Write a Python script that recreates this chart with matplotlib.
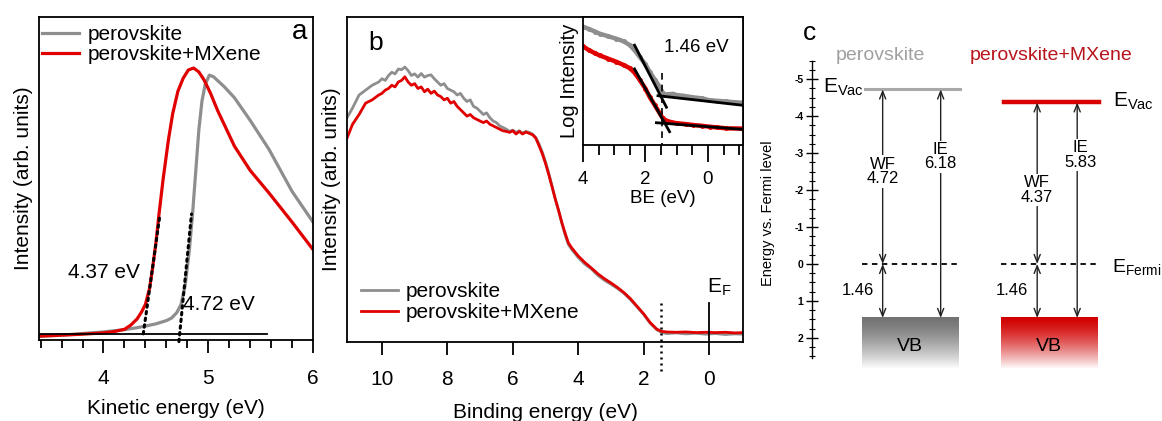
import numpy as np
import matplotlib
matplotlib.use('Agg')
import matplotlib.pyplot as plt
from matplotlib.ticker import MultipleLocator, FixedLocator

plt.rcParams['font.family'] = ['Liberation Sans', 'DejaVu Sans']
plt.rcParams['mathtext.fontset'] = 'custom'
plt.rcParams['mathtext.rm'] = 'Liberation Sans'
plt.rcParams['mathtext.it'] = 'Liberation Sans:italic'
plt.rcParams['mathtext.default'] = 'regular'

GRAY = '#8e8e8e'
RED = '#e00000'
LABELS = ['perovskite', 'perovskite+MXene']

# ---- panel a : secondary electron cutoff (kinetic energy, intensity) ----
ke_gray = [3.40, 3.60, 3.80, 4.00, 4.20, 4.30, 4.40, 4.50, 4.60, 4.65, 4.70, 4.74, 4.78,
           4.82, 4.85, 4.88, 4.91, 4.94, 4.97, 5.01, 5.05, 5.15, 5.25, 5.40, 5.58, 5.80, 6.00]
int_gray = [0.012, 0.015, 0.020, 0.025, 0.032, 0.037, 0.043, 0.050, 0.060, 0.068, 0.085, 0.11, 0.17,
            0.28, 0.39, 0.52, 0.65, 0.74, 0.79, 0.82, 0.815, 0.785, 0.75, 0.68, 0.59, 0.46, 0.365]
ke_red = [3.40, 3.80, 4.00, 4.10, 4.20, 4.26, 4.32, 4.36, 4.40, 4.44, 4.47, 4.50, 4.53, 4.57,
          4.62, 4.66, 4.71, 4.76, 4.81, 4.86, 4.91, 4.96, 5.02, 5.09, 5.17, 5.25, 5.40, 5.58, 5.80, 6.00]
int_red = [0.012, 0.018, 0.022, 0.026, 0.033, 0.046, 0.065, 0.085, 0.11, 0.16, 0.226, 0.30, 0.39, 0.50,
           0.62, 0.70, 0.77, 0.81, 0.836, 0.842, 0.83, 0.805, 0.765, 0.71, 0.655, 0.60, 0.525, 0.455, 0.365, 0.28]
cutoff_red = ([4.38, 4.54], [0.019, 0.39])
cutoff_gray = ([4.72, 4.84], [-0.005, 0.39])
baseline_a = ([3.385, 5.56], [0.019, 0.019])

# ---- panel b : valence band (binding energy, intensity) ----
be_gray = [11.07, 10.9, 10.7, 10.5, 10.3, 10.1, 10.0, 9.9, 9.8, 9.7, 9.6, 9.5, 9.4, 9.3, 9.2, 9.1,
           9.0, 8.9, 8.8, 8.7, 8.6, 8.5, 8.4, 8.3, 8.2, 8.1, 8.0, 7.9, 7.8, 7.7, 7.6, 7.5, 7.4, 7.3,
           7.2, 7.1, 7.0, 6.9, 6.8, 6.7, 6.6, 6.5, 6.4, 6.3, 6.2, 6.1, 6.0, 5.9, 5.8, 5.7, 5.6, 5.5,
           5.4, 5.3, 5.2, 5.1, 5.0, 4.9, 4.8, 4.7, 4.6, 4.5, 4.4, 4.3, 4.2, 4.0, 3.8, 3.6, 3.4, 3.2,
           3.0, 2.8, 2.6, 2.4, 2.2, 2.0, 1.8, 1.6, 1.46, 1.3, 1.0, 0.7, 0.4, 0.1, -0.2, -0.5, -0.8, -1.04]
vb_gray = [0.69, 0.72, 0.76, 0.775, 0.79, 0.80, 0.81, 0.805, 0.82, 0.83, 0.825, 0.84, 0.838, 0.846, 0.835, 0.82,
           0.825, 0.815, 0.826, 0.815, 0.82, 0.822, 0.81, 0.80, 0.79, 0.795, 0.78, 0.775, 0.77, 0.76, 0.765, 0.75, 0.74, 0.745,
           0.725, 0.72, 0.71, 0.70, 0.705, 0.69, 0.68, 0.675, 0.665, 0.66, 0.655, 0.648, 0.652, 0.645, 0.65, 0.642, 0.648, 0.645,
           0.64, 0.63, 0.61, 0.585, 0.555, 0.52, 0.48, 0.44, 0.405, 0.365, 0.33, 0.30, 0.285, 0.26, 0.24, 0.225, 0.205, 0.19,
           0.178, 0.165, 0.15, 0.13, 0.108, 0.085, 0.058, 0.038, 0.03, 0.026, 0.028, 0.025, 0.027, 0.024, 0.026, 0.023, 0.025, 0.024]
be_red = [11.07, 10.9, 10.7, 10.5, 10.3, 10.1, 10.0, 9.9, 9.8, 9.7, 9.6, 9.5, 9.4, 9.3, 9.2, 9.1,
          9.0, 8.9, 8.8, 8.7, 8.6, 8.5, 8.4, 8.3, 8.2, 8.1, 8.0, 7.9, 7.8, 7.7, 7.6, 7.5, 7.4, 7.3,
          7.2, 7.1, 7.0, 6.9, 6.8, 6.7, 6.6, 6.5, 6.4, 6.3, 6.2, 6.1, 6.0, 5.9, 5.8, 5.7, 5.6, 5.5,
          5.4, 5.3, 5.2, 5.1, 5.0, 4.9, 4.8, 4.7, 4.6, 4.5, 4.4, 4.3, 4.2, 4.0, 3.8, 3.6, 3.4, 3.2,
          3.0, 2.8, 2.6, 2.4, 2.2, 2.0, 1.8, 1.6, 1.46, 1.3, 1.0, 0.7, 0.4, 0.1, -0.2, -0.5, -0.8, -1.04]
vb_red = [0.627, 0.67, 0.70, 0.735, 0.745, 0.76, 0.765, 0.775, 0.78, 0.79, 0.785, 0.80, 0.805, 0.816, 0.80, 0.79,
          0.795, 0.78, 0.785, 0.77, 0.778, 0.765, 0.772, 0.76, 0.755, 0.745, 0.75, 0.735, 0.74, 0.725, 0.715, 0.705, 0.695, 0.70,
          0.69, 0.685, 0.68, 0.675, 0.68, 0.67, 0.665, 0.66, 0.655, 0.65, 0.648, 0.645, 0.65, 0.64, 0.648, 0.64, 0.646, 0.642,
          0.638, 0.628, 0.605, 0.58, 0.55, 0.515, 0.478, 0.44, 0.405, 0.368, 0.335, 0.305, 0.29, 0.265, 0.245, 0.228, 0.21, 0.195,
          0.182, 0.168, 0.152, 0.133, 0.11, 0.087, 0.06, 0.04, 0.033, 0.031, 0.03, 0.031, 0.029, 0.03, 0.029, 0.03, 0.028, 0.029]
vbm = 1.46

# ---- inset : log intensity near the valence band edge ----
be_in_gray = [4.0, 3.8, 3.6, 3.47, 3.2, 2.93, 2.7, 2.5, 2.35, 2.19, 2.0, 1.87, 1.7, 1.55, 1.45, 1.39,
              1.3, 1.12, 1.0, 0.8, 0.59, 0.4, 0.2, -0.05, -0.3, -0.59, -0.8, -1.12]
log_gray = [0.925, 0.905, 0.885, 0.87, 0.85, 0.83, 0.81, 0.78, 0.74, 0.69, 0.63, 0.573, 0.51, 0.456, 0.41, 0.39,
            0.395, 0.40, 0.39, 0.385, 0.377, 0.37, 0.365, 0.35, 0.345, 0.34, 0.335, 0.33]
be_in_red = [4.0, 3.8, 3.6, 3.47, 3.2, 2.93, 2.7, 2.5, 2.35, 2.19, 2.0, 1.87, 1.7, 1.55, 1.45, 1.39,
             1.2, 1.0, 0.7, 0.47, 0.2, -0.05, -0.3, -0.59, -1.12]
log_red = [0.77, 0.74, 0.715, 0.70, 0.675, 0.65, 0.625, 0.60, 0.565, 0.51, 0.44, 0.377, 0.31, 0.25, 0.21, 0.195,
           0.18, 0.17, 0.163, 0.156, 0.15, 0.143, 0.137, 0.13, 0.128]
fits = [([2.35, 1.33], [0.78, 0.295]), ([1.6, -1.12], [0.385, 0.31]),
        ([2.35, 1.23], [0.594, 0.104]), ([1.65, -1.12], [0.174, 0.122])]

# ---- panel c : energy levels ----
wf = [4.72, 4.37]
ie = [6.18, 5.83]
vb_top = [1.46, 1.46]

fig = plt.figure(figsize=(11.62, 4.21), dpi=100)

# ================= panel a =================
ax = fig.add_axes([0.0336, 0.1924, 0.2358, 0.7672])
ax.plot(ke_gray, int_gray, color=GRAY, lw=2.3, label=LABELS[0])
ax.plot(ke_red, int_red, color=RED, lw=2.3, label=LABELS[1])
ax.plot(*cutoff_red, color='black', lw=2.2, ls=(0, (0.8, 1.4)), dash_capstyle='round', clip_on=False)
ax.plot(*cutoff_gray, color='black', lw=2.2, ls=(0, (0.8, 1.4)), dash_capstyle='round', clip_on=False)
ax.plot(*baseline_a, color='black', lw=1.3)
ax.set_xlim(3.385, 6.0)
ax.set_ylim(0, 1)
ax.set_yticks([])
ax.xaxis.set_major_locator(MultipleLocator(1))
ax.xaxis.set_minor_locator(MultipleLocator(0.2))
ax.tick_params(axis='x', which='major', direction='out', length=9, width=1.3, labelsize=15, pad=12)
ax.tick_params(axis='x', which='minor', direction='out', length=6, width=1.3)
ax.set_xlabel('Kinetic energy (eV)', fontsize=15, labelpad=8)
ax.set_ylabel('Intensity (arb. units)', fontsize=15, labelpad=4)
for s in ax.spines.values():
    s.set_linewidth(1.3)
ax.text(4.35, 0.21, '4.37 eV', fontsize=15, ha='right', va='center')
ax.text(4.76, 0.11, '4.72 eV', fontsize=15, ha='left', va='center')
ax.text(5.87, 0.955, 'a', fontsize=20, ha='center', va='center')
ax.legend(loc='upper left', bbox_to_anchor=(-0.02, 1.0), frameon=False, fontsize=15,
          handlelength=1.8, handletextpad=0.4, labelspacing=0.05, borderaxespad=0)

# ================= panel b =================
bx = fig.add_axes([0.2986, 0.1876, 0.3408, 0.772])
bx.plot(be_gray, vb_gray, color=GRAY, lw=2.0, label=LABELS[0])
bx.plot(be_red, vb_red, color=RED, lw=2.0, label=LABELS[1])
bx.plot([vbm, vbm], [0.12, -0.095], color='black', lw=1.8, ls=(0, (0.8, 1.6)), clip_on=False)
bx.plot([0, 0], [0.12, 0.0], color='black', lw=1.3)
bx.text(0.07, 0.168, '$E_F$', fontsize=15, ha='left', va='center')
bx.set_xlim(11.07, -1.04)
bx.set_ylim(0, 1)
bx.set_yticks([])
bx.set_xticks([10, 8, 6, 4, 2, 0])
bx.tick_params(axis='x', direction='out', length=9, width=1.3, labelsize=15, pad=11)
bx.set_xlabel('Binding energy (eV)', fontsize=15, labelpad=10)
bx.set_ylabel('Intensity (arb. units)', fontsize=15, labelpad=4)
for s in bx.spines.values():
    s.set_linewidth(1.3)
bx.text(10.2, 0.92, 'b', fontsize=19, ha='center', va='center')
bx.legend(loc='upper left', bbox_to_anchor=(0.015, 0.21), frameon=False, fontsize=15,
          handlelength=1.75, handletextpad=0.4, labelspacing=0.1, borderaxespad=0)

# ================= inset =================
ix = fig.add_axes([0.5017, 0.6556, 0.1377, 0.304])
ix.plot(be_in_gray, log_gray, color=GRAY, lw=3.2, marker='o', ms=2.5)
ix.plot(be_in_red, log_red, color=RED, lw=3.2, marker='o', ms=2.5)
for xs, ys in fits:
    ix.plot(xs, ys, color='black', lw=2.0)
ix.plot([vbm, vbm], [0.56, 0.0], color='black', lw=1.2, ls=(0, (4, 3)))
ix.text(1.4, 0.765, '1.46 eV', fontsize=13.5, ha='left', va='center')
ix.set_xlim(4, -1.12)
ix.set_ylim(0, 1)
ix.set_yticks([])
ix.xaxis.set_major_locator(MultipleLocator(2))
ix.xaxis.set_minor_locator(MultipleLocator(0.5))
ix.tick_params(axis='x', which='major', direction='out', length=12, width=1.3, labelsize=13.5, pad=7)
ix.tick_params(axis='x', which='minor', direction='out', length=7, width=1.3)
ix.set_xlabel('BE (eV)', fontsize=13.5, labelpad=1)
ix.set_ylabel('Log Intensity', fontsize=14.5, labelpad=3)
for s in ix.spines.values():
    s.set_linewidth(1.3)

# ================= panel c =================
cx = fig.add_axes([0.6985, 0.0499, 0.3015, 0.9097])
cx.set_xlim(0, 350.3)
cx.set_ylim(3.68, -6.68)
for side in ['top', 'right', 'bottom']:
    cx.spines[side].set_visible(False)
cx.spines['left'].set_bounds(-5.5, 2.54)
cx.spines['left'].set_linewidth(1.0)
cx.set_xticks([])
major = list(range(-5, 3))
cx.set_yticks(major, labels=[str(v) for v in major])
cx.yaxis.set_minor_locator(FixedLocator(np.arange(-5.5, 2.51, 0.25)))
cx.tick_params(axis='y', which='major', direction='inout', length=8, width=1.0,
               labelsize=7.5, pad=2)
cx.tick_params(axis='y', which='minor', direction='inout', length=5, width=0.8)
for t in cx.get_yticklabels():
    t.set_fontweight('bold')
cx.set_ylabel('Energy vs. Fermi level', fontsize=10.5)
cx.yaxis.set_label_coords(-0.105, 0.488)
cx.text(-2, -6.24, 'c', fontsize=19, ha='center', va='center', clip_on=False)

# positions of the two level diagrams (x in panel units)
boxes = [(50, 146), (189, 285)]
wf_x = [71, 225.5]
ie_x = [129, 265.5]
title_x = [69, 239]
top_cols = [np.array([0.45, 0.45, 0.45]), np.array([0.82, 0.0, 0.0])]
evac_cols = ['#a9a9a9', '#d80000']
evac_lw = [2.2, 3.2]
title_cols = ['#a0a0a0', '#b8141c']
vb_bottom = 2.85

arrow = dict(arrowstyle='<->,head_length=0.55,head_width=0.22', lw=1.0, color='#222222',
             shrinkA=0, shrinkB=0)
for i in range(2):
    x0, x1 = boxes[i]
    evac = -wf[i]
    xm = (x0 + x1) / 2
    # valence band gradient
    t = np.linspace(0, 1, 200)[:, None, None] ** 1.4
    grad = top_cols[i] + (1 - top_cols[i]) * t
    cx.imshow(grad, extent=(x0, x1, vb_bottom, vb_top[i]), origin='upper', aspect='auto', zorder=1)
    cx.text(xm, 2.24, 'VB', fontsize=14, ha='center', va='center', zorder=6)
    # levels
    cx.plot([x0 + 3, x1 + 2], [evac, evac], color=evac_cols[i], lw=evac_lw[i], zorder=2)
    cx.plot([x0, x1 + 2], [0, 0], color='black', lw=1.3, ls=(0, (3, 2.5)), zorder=2)
    # arrows
    cx.annotate('', xy=(wf_x[i], evac), xytext=(wf_x[i], 0), arrowprops=arrow, zorder=3)
    cx.annotate('', xy=(wf_x[i], 0), xytext=(wf_x[i], vb_top[i]), arrowprops=arrow, zorder=3)
    cx.annotate('', xy=(ie_x[i], evac), xytext=(ie_x[i], vb_top[i]), arrowprops=arrow, zorder=3)
    cx.text(title_x[i], -5.65, LABELS[i], fontsize=14, color=title_cols[i], ha='center', va='center')
    cx.text(wf_x[i] - 25, 0.72, '%.2f' % vb_top[i], fontsize=12, ha='center', va='center')

bb = dict(facecolor='white', edgecolor='none', pad=1)
cx.text(wf_x[0], -2.5, 'WF\n%.2f' % wf[0], fontsize=12, ha='center', va='center',
        linespacing=0.95, bbox=bb, zorder=5)
cx.text(ie_x[0], -2.9, 'IE\n%.2f' % ie[0], fontsize=12, ha='center', va='center',
        linespacing=0.95, bbox=bb, zorder=5)
cx.text(wf_x[1], -2.0, 'WF\n%.2f' % wf[1], fontsize=12, ha='center', va='center',
        linespacing=0.95, bbox=bb, zorder=5)
cx.text(ie_x[1] + 3, -2.95, 'IE\n%.2f' % ie[1], fontsize=12, ha='center', va='center',
        linespacing=0.95, bbox=bb, zorder=5)

cx.text(boxes[0][0] + 2, -wf[0] - 0.05, '$E_{Vac}$', fontsize=15, ha='right', va='center')
cx.text(301, -wf[1] - 0.02, '$E_{Vac}$', fontsize=15, ha='left', va='center')
cx.text(300, 0.08, '$E_{Fermi}$', fontsize=14, ha='left', va='center', clip_on=False)

fig.savefig('out.png', dpi=100)
